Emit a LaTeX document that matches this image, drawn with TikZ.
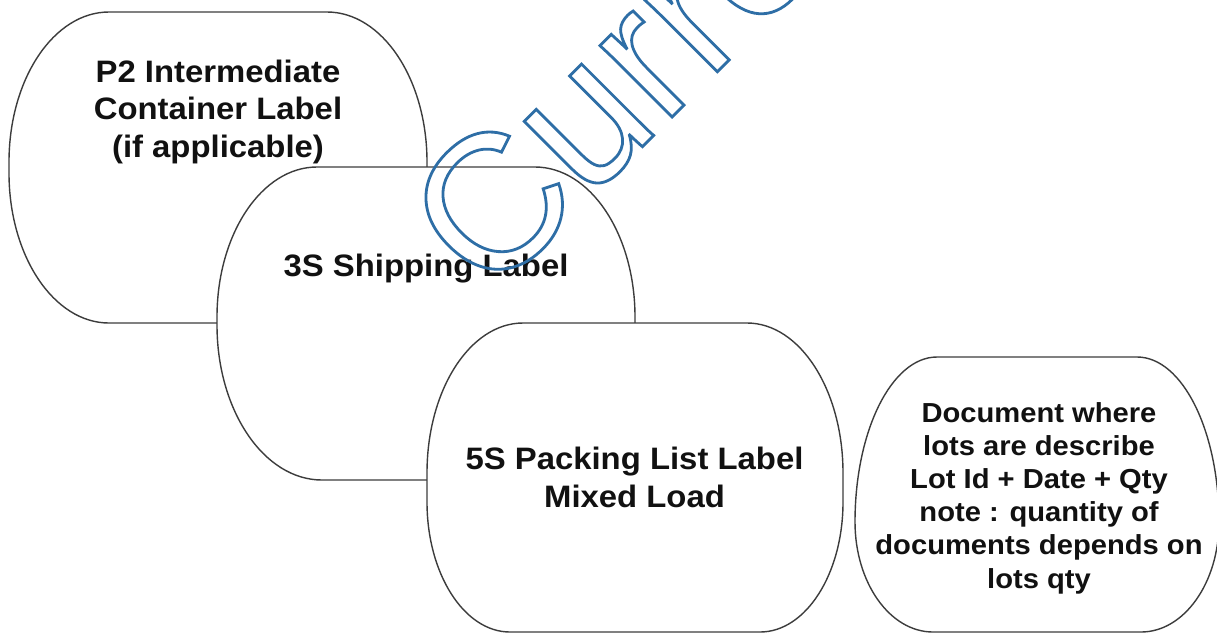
\documentclass[tikz,border=0pt]{standalone}
\usepackage{fontspec}
\newfontfamily\lblfont[FakeStretch=1.06]{Liberation Sans Bold}
\newfontfamily\wmfont{Liberation Sans}
\definecolor{cardline}{HTML}{3C3C3C}
\definecolor{txt}{HTML}{111111}
\definecolor{wmblue}{RGB}{46,110,166}
\newcommand{\card}[8]{%
  \draw[card] (#1+#5,#2) -- (#3-#5,#2)
    arc[start angle=-90,end angle=0,x radius=#5,y radius=#6]
    -- (#3,#4-#8)
    arc[start angle=0,end angle=90,x radius=#7,y radius=#8]
    -- (#1+#7,#4)
    arc[start angle=90,end angle=180,x radius=#7,y radius=#8]
    -- (#1,#2+#6)
    arc[start angle=180,end angle=270,x radius=#5,y radius=#6]
    -- cycle;}
\tikzset{
  card/.style={draw=cardline, fill=white, line width=1.4pt},
  lbl/.style={font=\lblfont\fontsize{31}{37.5}\selectfont, text=txt, align=center, inner sep=0pt, anchor=base},
  lblsmall/.style={font=\lblfont\fontsize{27.5}{33.2}\selectfont, text=txt, align=center, inner sep=0pt, anchor=base},
  wmark/.style={font=\wmfont\fontsize{192}{200}\selectfont, text=wmblue, inner sep=0pt, anchor=base west, rotate=45}
}
\begin{document}
\begin{tikzpicture}[x=1pt,y=-1pt]
\useasboundingbox (0,0) rectangle (1217,633);
\clip (0,0) rectangle (1217,633);
\fill[white] (0,0) rectangle (1217,633);
% cards: x0, y0, x1, y1, rx top, ry top, rx bottom, ry bottom
\card{9}{12}{427}{323}{100}{150}{100}{150}
\card{217}{167}{635}{480}{100}{150}{105}{155}
\card{427}{323}{843}{632}{96}{150}{83}{130}
\card{855}{357}{1219}{632}{82}{165}{78}{110}
% anchor base = baseline of the last line
\node[lbl] (p2) at (218,157) {P2 Intermediate\\Container Label\\(if applicable)};
\node[lbl] (s3) at (426,276) {3S Shipping Label};
\node[lbl] (s5) at (634.5,507) {5S Packing List Label\\Mixed Load};
\node[lblsmall] (doc) at (1039,588) {Document where\\lots are describe\\Lot Id + Date + Qty\\note : quantity of\\documents depends on\\lots qty};
\node[wmark] (wm) at (489,300) {\special{pdf:code 1 Tr 2.8 w 0.18 0.43 0.65 RG}Curre\special{pdf:code 0 Tr}};
\end{tikzpicture}
\end{document}
